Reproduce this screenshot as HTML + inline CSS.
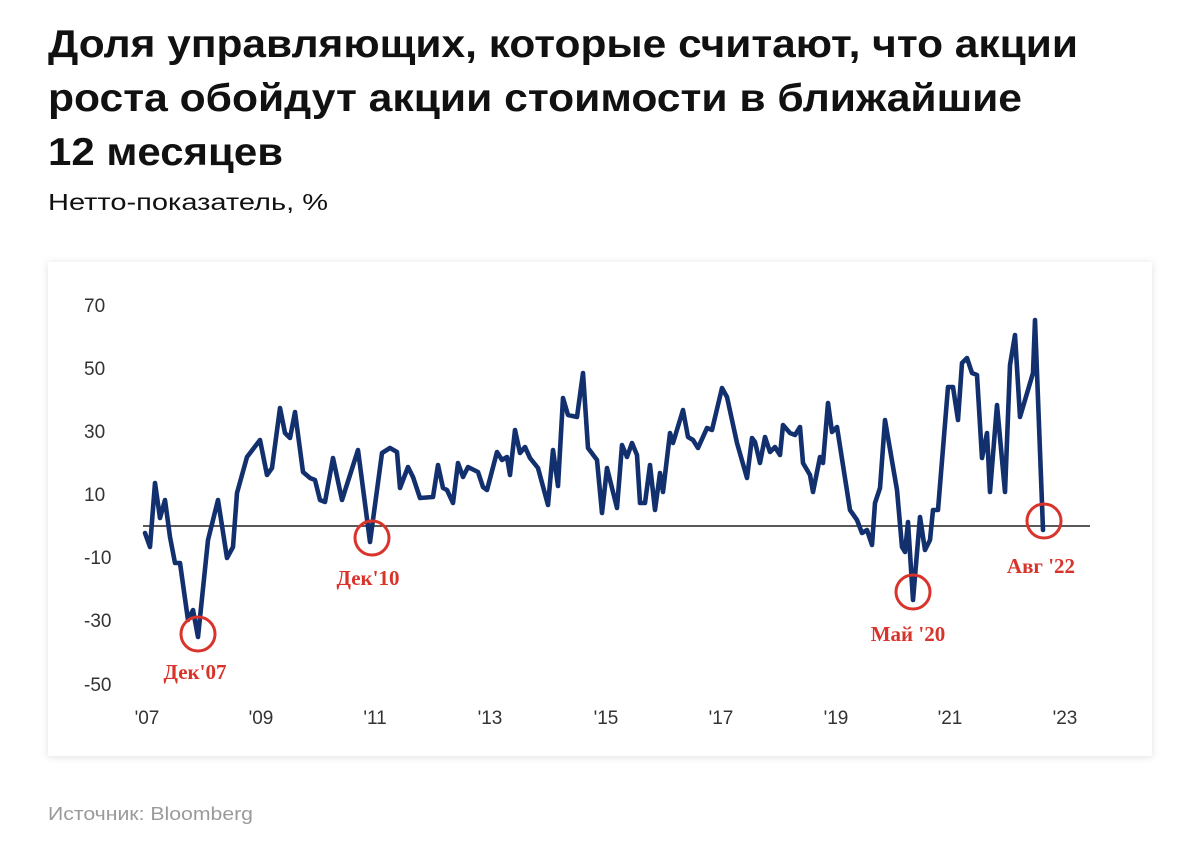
<!DOCTYPE html>
<html><head><meta charset="utf-8"><style>
html,body{margin:0;padding:0;background:#fff;}
svg{display:block;}
</style></head><body>
<svg width="1200" height="864" viewBox="0 0 1200 864" xmlns="http://www.w3.org/2000/svg" font-family="Liberation Sans, sans-serif">
<defs>
<filter id="sh" x="-5%" y="-5%" width="110%" height="115%"><feDropShadow dx="0" dy="1" stdDeviation="4" flood-color="#000" flood-opacity="0.12"/></filter>
</defs>
<g font-weight="bold" font-size="39" fill="#111">
<text x="48" y="57" textLength="1030" lengthAdjust="spacingAndGlyphs">Доля управляющих, которые считают, что акции</text>
<text x="48" y="111" textLength="974" lengthAdjust="spacingAndGlyphs">роста обойдут акции стоимости в ближайшие</text>
<text x="48" y="165" textLength="235" lengthAdjust="spacingAndGlyphs">12 месяцев</text>
</g>
<text x="48" y="210" font-size="23" fill="#111" textLength="280" lengthAdjust="spacingAndGlyphs">Нетто-показатель, %</text>
<rect x="48" y="262" width="1104" height="494" fill="#fff" filter="url(#sh)"/>
<g font-size="19" fill="#333">
<text x="84" y="312">70</text>
<text x="84" y="375">50</text>
<text x="84" y="438">30</text>
<text x="84" y="501">10</text>
<text x="84" y="564">-10</text>
<text x="84" y="627">-30</text>
<text x="84" y="691">-50</text>
</g>
<g font-size="19" fill="#333" text-anchor="middle">
<text x="147" y="724">'07</text><text x="261" y="724">'09</text><text x="375" y="724">'11</text><text x="490" y="724">'13</text><text x="606" y="724">'15</text><text x="721" y="724">'17</text><text x="836" y="724">'19</text><text x="950" y="724">'21</text><text x="1065" y="724">'23</text>
</g>
<line x1="143" y1="526" x2="1090" y2="526" stroke="#222" stroke-width="1.5"/>
<polyline fill="none" stroke="#13306e" stroke-width="4.6" stroke-linejoin="round" stroke-linecap="round" points="145,533 150,547 155,483 160,518 165,500 170,537 175,563 180,563 188,620 193,610 198,637 208,540 218,500 227,558 233,547 237,493 247,457 260,440 267,475 272,468 280,408 285,433 290,438 295,412 303,472 310,478 315,480 320,500 325,502 333,458 342,500 358,450 370,542 382,453 390,448 397,452 400,488 408,467 413,477 420,498 433,497 438,465 443,488 447,490 453,503 458,463 463,477 468,467 478,472 483,487 487,490 497,452 502,460 507,457 510,475 515,430 520,453 525,447 530,458 538,468 548,505 553,450 558,486 563,398 568,415 577,417 583,373 588,448 597,460 602,513 607,468 617,508 622,445 627,457 632,443 637,455 640,503 645,503 650,465 655,510 660,473 663,492 670,433 673,443 683,410 688,437 693,440 698,448 707,428 712,430 722,388 727,397 737,443 747,478 752,438 755,442 760,463 765,437 770,452 775,447 780,455 783,425 790,433 795,435 800,427 803,463 810,475 813,492 820,457 823,463 828,403 832,432 837,427 850,510 857,520 862,533 867,530 872,545 875,503 880,488 885,420 897,490 902,547 905,552 908,522 913,600 920,517 925,550 930,540 933,510 938,510 948,387 953,387 958,420 962,363 967,358 972,373 977,375 982,458 987,433 990,492 997,405 1005,492 1010,365 1015,335 1020,417 1033,373 1035,320 1043,530"/>
<g fill="none" stroke="#d9342b" stroke-width="3">
<circle cx="198" cy="634" r="17"/><circle cx="372" cy="538" r="17"/><circle cx="913" cy="592" r="17"/><circle cx="1044" cy="521" r="17"/>
</g>
<g font-family="Liberation Serif, serif" font-weight="bold" font-size="21" fill="#d9342b" text-anchor="middle">
<text x="195" y="679">Дек'07</text>
<text x="368" y="585">Дек'10</text>
<text x="908" y="641">Май '20</text>
<text x="1041" y="573">Авг '22</text>
</g>
<text x="48" y="820" font-size="18" fill="#9a9a9a" textLength="205" lengthAdjust="spacingAndGlyphs">Источник: Bloomberg</text>
</svg>
</body></html>
